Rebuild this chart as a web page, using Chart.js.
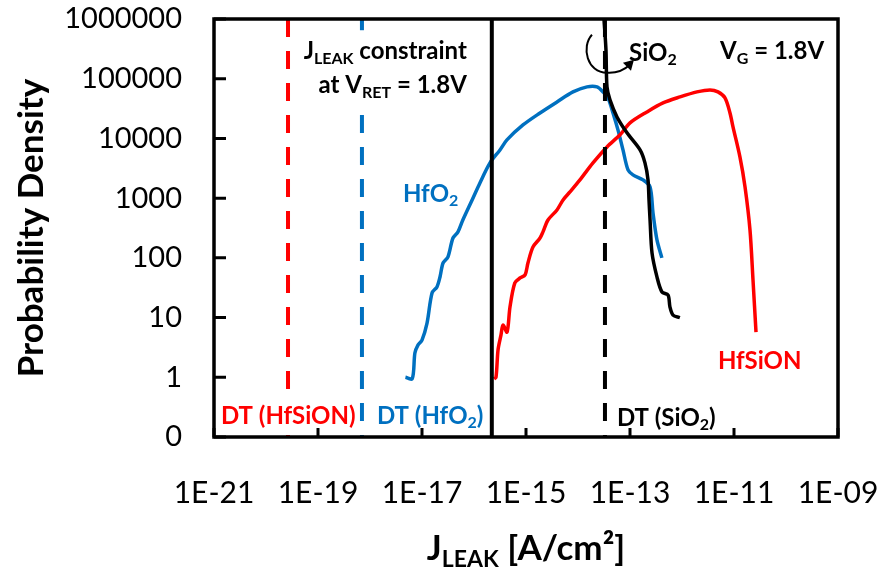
<!DOCTYPE html>
<html>
<head>
<meta charset="utf-8">
<script src="https://cdn.jsdelivr.net/npm/chart.js@4/dist/chart.umd.min.js"></script>
<style>
  html, body { margin: 0; padding: 0; background: #fff; }
  #wrap { width: 880px; height: 571px; }
</style>
</head>
<body>
<div id="wrap"><canvas id="chart" width="880" height="571"></canvas></div>
<script>
// leakage current density [A/cm2] vs probability density, per gate dielectric
const hfo2J = [4.8e-18, 6.5e-18, 7.3e-18, 8.4e-18, 1.0e-17, 1.25e-17, 1.56e-17, 1.94e-17, 2.22e-17, 2.54e-17,
  3.16e-17, 3.94e-17, 4.92e-17, 6.1e-17, 9.2e-17, 1.3e-16, 2.03e-16, 3.16e-16, 4.3e-16, 8.75e-16,
  1.86e-15, 3.94e-15, 8.0e-15, 1.49e-14, 2.32e-14, 3.03e-14, 3.78e-14, 4.71e-14, 5.87e-14, 7.33e-14,
  9.16e-14, 1.14e-13, 1.78e-13, 2.43e-13, 2.77e-13, 3.3e-13, 4.1e-13];
const hfo2Density = [1.0, 0.95, 2.55, 3.5, 4.2, 8.1, 25.8, 32.6, 47.9, 82,
  104, 215, 272, 431, 933, 1800, 3890, 6420, 9440, 16800,
  26700, 40800, 60100, 72900, 72900, 60100, 47700, 26700, 13900, 6420,
  2970, 2450, 2020, 1540, 565, 200, 100];

const hfsionJ = [2.43e-16, 2.65e-16, 2.9e-16, 3.3e-16, 3.61e-16, 4.32e-16, 4.92e-16, 6.1e-16, 7.7e-16, 9.6e-16,
  1.09e-15, 1.36e-15, 1.86e-15, 2.12e-15, 2.65e-15, 3.94e-15, 5.16e-15, 7.0e-15, 1.09e-14, 1.94e-14,
  3.61e-14, 6.43e-14, 1.0e-13, 2.12e-13, 4.32e-13, 9.16e-13, 1.94e-12, 3.45e-12, 4.92e-12, 6.71e-12,
  8.37e-12, 9.57e-12, 1.3e-11, 1.63e-11, 2.03e-11, 2.32e-11, 2.65e-11];
const hfsionDensity = [0.94, 1.0, 2.9, 5.1, 7.5, 5.7, 15, 38, 46, 52,
  82, 152, 215, 272, 431, 634, 933, 1270, 2020, 3890,
  7210, 11500, 18200, 27800, 39300, 49500, 60100, 64900, 60100, 47700,
  26700, 15600, 4900, 1540, 293, 42.6, 5.7];

const sio2J = [3.16e-14, 3.45e-14, 3.61e-14, 4.12e-14, 5.62e-14, 8.75e-14, 1.56e-13, 1.94e-13, 2.22e-13,
  2.32e-13, 2.43e-13, 2.65e-13, 3.3e-13, 4.12e-13, 5.39e-13, 5.87e-13, 6.72e-13, 9.1e-13];
const sio2Density = [1e6, 303000, 72900, 44200, 22900, 12400, 6420, 3890, 2020,
  933, 431, 121, 48, 26.8, 23.9, 15, 11, 10];

// direct-tunnelling limits and the leakage constraint (vertical markers)
const dtHfsion = 2.65e-20;
const dtHfo2 = 7.0e-19;
const dtSio2 = 3.3e-14;
const leakLimit = 2.2e-16;

// axis ticks
const xTickExponents = [-21, -19, -17, -15, -13, -11, -9];
const yTickValues = [0.1, 1, 10, 100, 1000, 10000, 100000, 1000000];

const RED = '#FF0000';
const BLUE = '#0070C0';
const BLACK = '#000000';
const FAMILY = 'Lato, "Open Sans", sans-serif';

const xMin = Number('1e' + xTickExponents[0]);
const xMax = Number('1e' + xTickExponents[xTickExponents.length - 1]);
const yMin = yTickValues[0];
const yMax = yTickValues[yTickValues.length - 1];

const pairs = (xs, ys) => xs.map((v, i) => ({ x: v, y: ys[i] }));
const vline = (v) => [{ x: v, y: yMax }, { x: v, y: yMin }];

// text placed in data coordinates; parts are [text, subscript?]
const notes = [
  { x: 7.3e-17, y: 3.0e5, align: 'right', color: BLACK, box: true, parts: [['J'], ['LEAK', 1], [' constraint']] },
  { x: 7.3e-17, y: 7.9e4, align: 'right', color: BLACK, box: true, parts: [['at V'], ['RET', 1], [' = 1.8V']] },
  { x: 9.6e-14, y: 2.8e5, align: 'left', color: BLACK, parts: [['SiO'], ['2', 1]] },
  { x: 5.4e-12, y: 3.0e5, align: 'left', color: BLACK, parts: [['V'], ['G', 1], [' = 1.8V']] },
  { x: 4.3e-18, y: 1220, align: 'left', color: BLUE, parts: [['HfO'], ['2', 1]] },
  { x: 4.9e-12, y: 1.95, align: 'left', color: RED, parts: [['HfSiON']] },
  { x: 1.36e-21, y: 0.234, align: 'left', color: RED, box: true, parts: [['DT (HfSiON)']] },
  { x: 1.36e-18, y: 0.234, align: 'left', color: BLUE, box: true, parts: [['DT (HfO'], ['2', 1], [')']] },
  { x: 5.6e-14, y: 0.216, align: 'left', color: BLACK, box: true, parts: [['DT (SiO'], ['2', 1], [')']] }
];

function richWidth(ctx, parts, size) {
  let w = 0;
  parts.forEach(([t, sub]) => {
    ctx.font = `bold ${sub ? Math.round(size * 0.66) : size}px ${FAMILY}`;
    w += ctx.measureText(t).width;
  });
  return w;
}

function drawRich(ctx, parts, x, y, align, size, color) {
  const w = richWidth(ctx, parts, size);
  let cx = align === 'right' ? x - w : align === 'center' ? x - w / 2 : x;
  const base = y + size * 0.36;
  ctx.fillStyle = color;
  ctx.textAlign = 'left';
  ctx.textBaseline = 'alphabetic';
  parts.forEach(([t, sub]) => {
    ctx.font = `bold ${sub ? Math.round(size * 0.66) : size}px ${FAMILY}`;
    ctx.fillText(t, cx, sub ? base + size * 0.2 : base);
    cx += ctx.measureText(t).width;
  });
}

const decorations = {
  id: 'decorations',
  beforeDatasetsDraw(chart) {
    // curved arrow pointing from the SiO2 label round its curve
    const { ctx, scales: { x, y } } = chart;
    const cx = x.getPixelForValue(dtSio2);
    const cy = y.getPixelForValue(4e5);
    ctx.save();
    ctx.strokeStyle = BLACK;
    ctx.lineWidth = 2;
    ctx.beginPath();
    ctx.moveTo(cx - 13, cy - 8);
    ctx.bezierCurveTo(cx - 24, cy + 4, cx - 18, cy + 30, cx + 2, cy + 30);
    ctx.quadraticCurveTo(cx + 15, cy + 31, cx + 25, cy + 22);
    ctx.stroke();
    ctx.beginPath();
    ctx.moveTo(cx + 29, cy + 17);
    ctx.lineTo(cx + 18, cy + 20);
    ctx.lineTo(cx + 26, cy + 28);
    ctx.closePath();
    ctx.fillStyle = BLACK;
    ctx.fill();
    ctx.restore();
  },
  afterDatasetsDraw(chart) {
    const { ctx, chartArea: a, scales: { x, y } } = chart;
    const size = 24;
    ctx.save();
    notes.forEach(n => {
      const px = x.getPixelForValue(n.x);
      const py = y.getPixelForValue(n.y);
      if (n.box) {
        const w = richWidth(ctx, n.parts, size);
        const left = n.align === 'right' ? px - w : px;
        ctx.fillStyle = '#fff';
        ctx.fillRect(left - 4, py - 20, w + 8, 40);
      }
    });
    notes.forEach(n => {
      drawRich(ctx, n.parts, x.getPixelForValue(n.x), y.getPixelForValue(n.y), n.align, size, n.color);
    });

    // plot frame and inward tick marks
    ctx.strokeStyle = BLACK;
    ctx.lineWidth = 3.5;
    ctx.strokeRect(a.left, a.top, a.right - a.left, a.bottom - a.top);
    ctx.lineWidth = 3;
    ctx.beginPath();
    yTickValues.forEach(v => {
      const py = y.getPixelForValue(v);
      ctx.moveTo(a.left, py);
      ctx.lineTo(a.left + 12, py);
    });
    xTickExponents.forEach(e => {
      const px = x.getPixelForValue(Number('1e' + e));
      ctx.moveTo(px, a.bottom);
      ctx.lineTo(px, a.bottom - 9);
    });
    ctx.stroke();
    ctx.restore();
  },
  afterDraw(chart) {
    const { ctx, chartArea: a } = chart;
    ctx.save();
    ctx.translate(32, (a.top + a.bottom) / 2);
    ctx.rotate(-Math.PI / 2);
    ctx.fillStyle = BLACK;
    ctx.font = `bold 35px ${FAMILY}`;
    ctx.textAlign = 'center';
    ctx.textBaseline = 'middle';
    ctx.fillText('Probability Density', 0, 0);
    ctx.restore();

    ctx.save();
    drawRich(ctx, [['J'], ['LEAK', 1], [' [A/cm²]']], (a.left + a.right) / 2, a.bottom + 110, 'center', 35, BLACK);
    ctx.restore();
  }
};

const curve = { pointRadius: 0, borderWidth: 3.5, tension: 0.3, fill: false, showLine: true };
const marker = { pointRadius: 0, borderWidth: 4, tension: 0, fill: false, showLine: true };

new Chart(document.getElementById('chart'), {
  type: 'scatter',
  data: {
    datasets: [
      { ...marker, label: 'Leakage constraint', data: vline(leakLimit), borderColor: BLACK },
      { ...marker, label: 'DT (SiO2)', data: vline(dtSio2), borderColor: BLACK, borderDash: [18, 14] },
      { ...marker, label: 'DT (HfO2)', data: vline(dtHfo2), borderColor: BLUE, borderDash: [18, 14] },
      { ...marker, label: 'DT (HfSiON)', data: vline(dtHfsion), borderColor: RED, borderDash: [18, 14] },
      { ...curve, label: 'SiO2', data: pairs(sio2J, sio2Density), borderColor: BLACK },
      { ...curve, label: 'HfSiON', data: pairs(hfsionJ, hfsionDensity), borderColor: RED },
      { ...curve, label: 'HfO2', data: pairs(hfo2J, hfo2Density), borderColor: BLUE }
    ]
  },
  options: {
    responsive: false,
    animation: false,
    devicePixelRatio: 1,
    layout: { padding: { top: 19, right: 42, left: 0, bottom: 0 } },
    plugins: { legend: { display: false }, tooltip: { enabled: false } },
    scales: {
      x: {
        type: 'logarithmic',
        min: xMin,
        max: xMax,
        grid: { display: false, drawTicks: false },
        border: { display: false },
        afterBuildTicks: s => { s.ticks = xTickExponents.map(e => ({ value: Number('1e' + e) })); },
        afterFit: s => { s.height = 134; s.paddingLeft = 0; s.paddingRight = 0; },
        ticks: {
          autoSkip: false,
          maxRotation: 0,
          padding: 38,
          color: BLACK,
          font: { family: FAMILY, size: 30 },
          callback: v => {
            const e = Math.round(Math.log10(v));
            return '1E' + (e < 0 ? '-' : '+') + String(Math.abs(e)).padStart(2, '0');
          }
        }
      },
      y: {
        type: 'logarithmic',
        min: yMin,
        max: yMax,
        grid: { display: false, drawTicks: false },
        border: { display: false },
        afterBuildTicks: s => { s.ticks = yTickValues.map(v => ({ value: v })); },
        afterFit: s => { s.width = 214; s.paddingTop = 0; s.paddingBottom = 0; },
        ticks: {
          autoSkip: false,
          padding: 32,
          color: BLACK,
          font: { family: FAMILY, size: 29 },
          callback: v => (v < 1 ? '0' : String(Math.round(v)))
        }
      }
    }
  },
  plugins: [decorations]
});
</script>
</body>
</html>
